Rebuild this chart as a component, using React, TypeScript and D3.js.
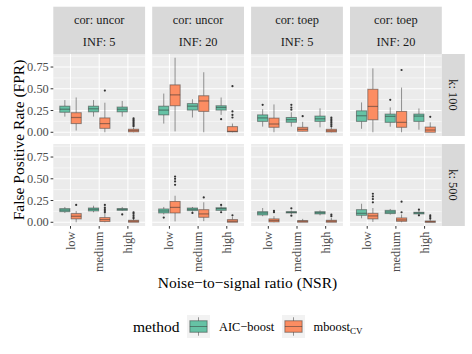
import React from "react";
import * as d3 from "d3";

// facet layout: columns = cor x INF, rows = k
const corLabels = ["uncor", "uncor", "toep", "toep"];
const infLabels = ["5", "20", "5", "20"];
const kLabels = ["100", "500"];
const nsrLevels = ["low", "medium", "high"];
const methods = ["AIC-boost", "mboostCV"];
const yTicks = [0, 0.25, 0.5, 0.75];
const yMinor = [0.125, 0.375, 0.625, 0.875];

// box stats per panel: [whiskerLo, q1, median, q3, whiskerHi], order: low AIC, low mboost, medium AIC, ...
const uncor5k100 = [
  [0.18, 0.23, 0.265, 0.3, 0.37],
  [0.02, 0.1, 0.17, 0.225, 0.4],
  [0.18, 0.235, 0.27, 0.3, 0.37],
  [0.0, 0.045, 0.1, 0.165, 0.34],
  [0.18, 0.235, 0.265, 0.29, 0.36],
  [0.0, 0.005, 0.02, 0.035, 0.055],
];
const uncor20k100 = [
  [0.1, 0.2, 0.255, 0.3, 0.445],
  [0.01, 0.305, 0.43, 0.545, 0.857],
  [0.17, 0.255, 0.3, 0.33, 0.38],
  [0.0, 0.24, 0.36, 0.42, 0.69],
  [0.2, 0.255, 0.285, 0.305, 0.4],
  [0.0, 0.005, 0.01, 0.065, 0.1],
];
const toep5k100 = [
  [0.065, 0.125, 0.165, 0.2, 0.265],
  [0.0, 0.057, 0.095, 0.163, 0.32],
  [0.065, 0.115, 0.145, 0.17, 0.23],
  [0.01, 0.012, 0.034, 0.057, 0.12],
  [0.057, 0.125, 0.155, 0.186, 0.275],
  [0.0, 0.003, 0.017, 0.034, 0.06],
];
const toep20k100 = [
  [0.04, 0.125, 0.19, 0.247, 0.343],
  [0.0, 0.144, 0.297, 0.495, 0.735],
  [0.064, 0.114, 0.183, 0.209, 0.286],
  [0.0, 0.057, 0.114, 0.24, 0.514],
  [0.03, 0.125, 0.186, 0.209, 0.274],
  [0.0, 0.0, 0.026, 0.06, 0.114],
];
const uncor5k500 = [
  [0.107, 0.122, 0.14, 0.157, 0.176],
  [0.0, 0.039, 0.069, 0.1, 0.13],
  [0.115, 0.13, 0.149, 0.164, 0.19],
  [0.0, 0.008, 0.031, 0.054, 0.107],
  [0.13, 0.137, 0.149, 0.157, 0.176],
  [0.0, 0.0, 0.012, 0.023, 0.04],
];
const uncor20k500 = [
  [0.09, 0.107, 0.13, 0.153, 0.176],
  [0.01, 0.107, 0.171, 0.24, 0.305],
  [0.122, 0.134, 0.149, 0.164, 0.176],
  [0.013, 0.057, 0.096, 0.145, 0.23],
  [0.125, 0.137, 0.157, 0.167, 0.185],
  [0.0, 0.0, 0.012, 0.031, 0.06],
];
const toep5k500 = [
  [0.07, 0.084, 0.107, 0.122, 0.164],
  [0.0, 0.004, 0.02, 0.039, 0.07],
  [0.095, 0.107, 0.115, 0.122, 0.135],
  [0.0, 0.0, 0.012, 0.019, 0.039],
  [0.08, 0.096, 0.11, 0.122, 0.137],
  [0.0, 0.0, 0.012, 0.023, 0.05],
];
const toep20k500 = [
  [0.046, 0.08, 0.103, 0.145, 0.213],
  [0.004, 0.039, 0.073, 0.103, 0.164],
  [0.088, 0.1, 0.118, 0.137, 0.153],
  [0.0, 0.011, 0.027, 0.05, 0.09],
  [0.088, 0.096, 0.107, 0.115, 0.13],
  [0.0, 0.0, 0.005, 0.015, 0.035],
];

// outliers, same order
const out5k100 = [[], [], [], [0.48], [], [0.07, 0.085, 0.1, 0.115, 0.13, 0.145, 0.16]];
const out20k100 = [[], [], [], [], [0.15], [0.17, 0.2, 0.24, 0.53]];
const outT5k100 = [[0.315], [], [0.26, 0.285, 0.315], [0.185], [], [0.07, 0.09, 0.11, 0.13, 0.15, 0.17]];
const outT20k100 = [[], [], [0.373], [0.716], [], [0.178]];
const out5k500 = [[], [0.2], [], [0.115, 0.13, 0.15, 0.17, 0.2], [0.09], [0.045, 0.06, 0.08, 0.1, 0.115]];
const out20k500 = [[0.054], [0.43, 0.47, 0.5, 0.525], [0.107], [0.286], [0.2, 0.115], [0.08]];
const outT5k500 = [[], [0.115, 0.13], [0.076, 0.16], [], [], [0.07, 0.088]];
const outT20k500 = [[], [0.229, 0.267, 0.297, 0.328], [], [0.115, 0.237], [0.08, 0.145], [0.042, 0.061, 0.08]];

const panelStats = [
  [uncor5k100, uncor20k100, toep5k100, toep20k100],
  [uncor5k500, uncor20k500, toep5k500, toep20k500],
];
const panelOutliers = [
  [out5k100, out20k100, outT5k100, outT20k100],
  [out5k500, out20k500, outT5k500, outT20k500],
];

const colors = ["#66C2A5", "#FC8D62"];
const font = '"Liberation Serif", "Times New Roman", "DejaVu Serif", serif';

const left = 53.3;
const right = 441.8;
const rowTops = [54, 144];
const rowH = 82;

export default function App() {
  const col = d3.scaleBand<number>().domain([0, 1, 2, 3]).range([left, right]).paddingInner(0.0718);
  const pw = col.bandwidth();
  const x = d3.scalePoint<string>().domain(nsrLevels).range([0, pw]).padding(0.6);
  const step = x.step();
  const dodge = d3.scaleBand<string>().domain(methods).range([-0.375 * step, 0.375 * step]).paddingInner(0.1);
  const bw = dodge.bandwidth();

  const strokeCol = "#333333";

  return (
    <svg width={472} height={354} style={{ display: "block", position: "absolute", left: 0, top: 0, fontFamily: font }}>
      <rect width={472} height={354} fill="white" />
      {rowTops.map((top, r) => {
        const y = d3.scaleLinear().domain([-0.0429, 0.9]).range([top + rowH, top]);
        return (
          <g key={r}>
            {[0, 1, 2, 3].map((c) => {
              const x0 = col(c)!;
              return (
                <g key={c}>
                  <rect x={x0} y={top} width={pw} height={rowH} fill="#EBEBEB" />
                  {yMinor.map((t) => (
                    <line key={t} x1={x0} x2={x0 + pw} y1={y(t)} y2={y(t)} stroke="white" strokeWidth={0.53} />
                  ))}
                  {yTicks.map((t) => (
                    <line key={t} x1={x0} x2={x0 + pw} y1={y(t)} y2={y(t)} stroke="white" strokeWidth={1.07} />
                  ))}
                  {nsrLevels.map((n) => (
                    <line key={n} x1={x0 + x(n)!} x2={x0 + x(n)!} y1={top} y2={top + rowH} stroke="white" strokeWidth={1.07} />
                  ))}
                  {nsrLevels.map((n, i) =>
                    methods.map((m, j) => {
                      const s = panelStats[r][c][i * 2 + j];
                      const outs = panelOutliers[r][c][i * 2 + j];
                      const bx = x0 + x(n)! + dodge(m)!;
                      const cx = bx + bw / 2;
                      return (
                        <g key={n + m}>
                          <line x1={cx} x2={cx} y1={y(s[0])} y2={y(s[1])} stroke={strokeCol} strokeOpacity={0.5} strokeWidth={1} />
                          <line x1={cx} x2={cx} y1={y(s[3])} y2={y(s[4])} stroke={strokeCol} strokeOpacity={0.5} strokeWidth={1} />
                          <rect x={bx} y={y(s[3])} width={bw} height={Math.max(0.5, y(s[1]) - y(s[3]))} fill={colors[j]} />
                          <rect x={bx} y={y(s[3])} width={bw} height={Math.max(0.5, y(s[1]) - y(s[3]))} fill="none" stroke={strokeCol} strokeOpacity={0.5} strokeWidth={1} />
                          <line x1={bx} x2={bx + bw} y1={y(s[2])} y2={y(s[2])} stroke={strokeCol} strokeOpacity={0.5} strokeWidth={1.2} />
                          {outs.map((o, k) => (
                            <circle key={k} cx={cx} cy={y(o)} r={1.1} fill="#333333" />
                          ))}
                        </g>
                      );
                    })
                  )}
                  {r === 1 &&
                    nsrLevels.map((n) => (
                      <g key={"xt" + n}>
                        <line x1={x0 + x(n)!} x2={x0 + x(n)!} y1={top + rowH} y2={top + rowH + 2.7} stroke="#333" strokeWidth={1} />
                        <text
                          transform={`translate(${x0 + x(n)!},${top + rowH + 5.5}) rotate(-90)`}
                          textAnchor="end"
                          dominantBaseline="central"
                          fontSize={12.4}
                          fill="#4D4D4D"
                        >
                          {n}
                        </text>
                      </g>
                    ))}
                </g>
              );
            })}
            {yTicks.map((t) => (
              <g key={"yt" + t}>
                <line x1={left - 2.7} x2={left} y1={y(t)} y2={y(t)} stroke="#333" strokeWidth={1} />
                <text x={left - 4.5} y={y(t)} textAnchor="end" dominantBaseline="central" fontSize={12.4} fill="#4D4D4D">
                  {t.toFixed(2)}
                </text>
              </g>
            ))}
            <rect x={right} y={top} width={23} height={rowH} fill="#D9D9D9" />
            <text
              transform={`translate(${right + 11.5},${top + rowH / 2}) rotate(90)`}
              textAnchor="middle"
              dominantBaseline="central"
              fontSize={12.4}
              fill="#1A1A1A"
            >
              {`k: ${kLabels[r]}`}
            </text>
          </g>
        );
      })}
      {[0, 1, 2, 3].map((c) => (
        <g key={"strip" + c}>
          <rect x={col(c)!} y={6.7} width={pw} height={54 - 6.7} fill="#D9D9D9" />
          <text x={col(c)! + pw / 2} y={19.5} textAnchor="middle" dominantBaseline="central" fontSize={12.4} fill="#1A1A1A">
            {`cor: ${corLabels[c]}`}
          </text>
          <text x={col(c)! + pw / 2} y={42.3} textAnchor="middle" dominantBaseline="central" fontSize={12.4} fill="#1A1A1A">
            {`INF: ${infLabels[c]}`}
          </text>
        </g>
      ))}
      <text transform={`translate(18,140) rotate(-90)`} textAnchor="middle" dominantBaseline="central" fontSize={15.5} fill="black">
        False Positive Rate (FPR)
      </text>
      <text x={(left + right) / 2} y={287.5} textAnchor="middle" fontSize={15.5} fill="black">
        Noise−to−signal ratio (NSR)
      </text>
      {/* legend */}
      <text x={133} y={332} fontSize={15.5} fill="black">
        method
      </text>
      {methods.map((m, j) => {
        const kx = j === 0 ? 187 : 282;
        const ky = 315;
        const ks = 23;
        return (
          <g key={"leg" + m}>
            <rect x={kx} y={ky} width={ks} height={ks} fill="#F2F2F2" />
            <line x1={kx + ks / 2} x2={kx + ks / 2} y1={ky + ks * 0.1} y2={ky + ks * 0.9} stroke={strokeCol} strokeOpacity={0.5} />
            <rect x={kx + ks * 0.125} y={ky + ks * 0.25} width={ks * 0.75} height={ks * 0.5} fill={colors[j]} stroke={strokeCol} strokeOpacity={0.5} />
            <line x1={kx + ks * 0.125} x2={kx + ks * 0.875} y1={ky + ks / 2} y2={ky + ks / 2} stroke={strokeCol} strokeOpacity={0.5} />
          </g>
        );
      })}
      <text x={219} y={330.5} fontSize={12.4} fill="black">
        AIC−boost
      </text>
      <text x={313.5} y={330.5} fontSize={12.4} fill="black">
        mboost
        <tspan fontSize={9} dy={3}>
          CV
        </tspan>
      </text>
    </svg>
  );
}
